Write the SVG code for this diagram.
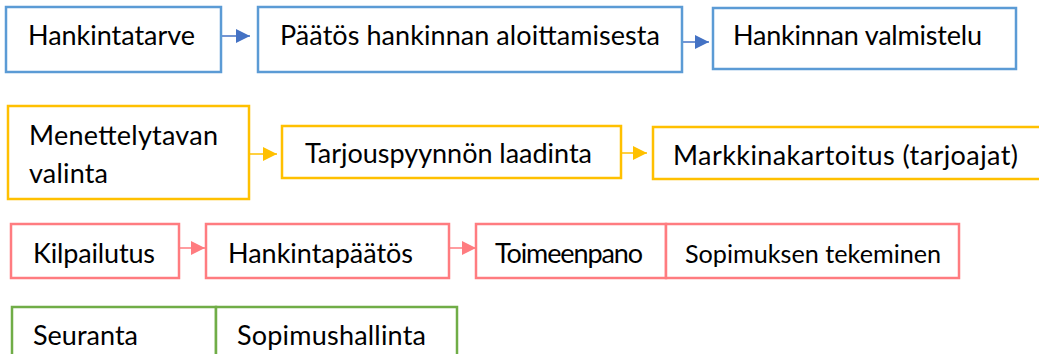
<svg xmlns="http://www.w3.org/2000/svg" width="1039" height="354" viewBox="0 0 1039 354">
<style>
  text { font-family: Lato, "Open Sans", "Liberation Sans", sans-serif; font-size: 27px; fill: #000; }
  rect { fill: #fff; stroke-width: 2.5; }
  .blue { stroke: #5B9BD5; }
  .yellow { stroke: #FFC000; }
  .pink { stroke: #FF7C80; }
  .green { stroke: #70AD47; }
  .conn { fill: none; stroke-width: 1.5; }
  .cb { stroke: #4472C4; }
  .cy { stroke: #FFC000; }
  .cp { stroke: #FF7C80; }
</style>
<defs>
  <marker id="hb" markerUnits="userSpaceOnUse" markerWidth="14" markerHeight="14" viewBox="0 0 14 14" refX="14" refY="7" orient="auto"><path d="M0,0 L14,7 L0,14 z" fill="#4472C4"/></marker>
  <marker id="hy" markerUnits="userSpaceOnUse" markerWidth="14" markerHeight="14" viewBox="0 0 14 14" refX="14" refY="7" orient="auto"><path d="M0,0 L14,7 L0,14 z" fill="#FFC000"/></marker>
  <marker id="hp" markerUnits="userSpaceOnUse" markerWidth="14" markerHeight="14" viewBox="0 0 14 14" refX="14" refY="7" orient="auto"><path d="M0,0 L14,7 L0,14 z" fill="#FF7C80"/></marker>
</defs>
<rect width="1039" height="354" fill="#fff" stroke="none"/>
<g id="connectors">
  <path class="conn cb" d="M221,36 L250,36" marker-end="url(#hb)"/>
  <path class="conn cb" d="M682,42 L709,42" marker-end="url(#hb)"/>
  <path class="conn cy" d="M249,154 L277,154" marker-end="url(#hy)"/>
  <path class="conn cy" d="M621,153 L647,153" marker-end="url(#hy)"/>
  <path class="conn cp" d="M179,248 L205,248" marker-end="url(#hp)"/>
  <path class="conn cp" d="M449,248 L476,248" marker-end="url(#hp)"/>
</g>
<g id="n1"><rect class="blue" x="6" y="7" width="215" height="65"/><text x="28" y="45" textLength="167">Hankintatarve</text></g>
<g id="n2"><rect class="blue" x="258" y="7" width="424" height="65"/><text x="280" y="45" textLength="380">Päätös hankinnan aloittamisesta</text></g>
<g id="n3"><rect class="blue" x="713" y="8" width="303" height="61"/><text x="733" y="45" textLength="249">Hankinnan valmistelu</text></g>
<g id="n4"><rect class="yellow" x="8" y="106" width="241" height="93"/><text x="29" y="145" textLength="189">Menettelytavan</text><text x="29" y="183" textLength="79">valinta</text></g>
<g id="n5"><rect class="yellow" x="282" y="126" width="339" height="52"/><text x="305" y="163" textLength="287">Tarjouspyynnön laadinta</text></g>
<g id="n6"><rect class="yellow" x="653" y="127" width="400" height="52"/><text x="673" y="165" textLength="345">Markkinakartoitus (tarjoajat)</text></g>
<g id="n7"><rect class="pink" x="11" y="224" width="168" height="54"/><text x="33" y="263" textLength="122">Kilpailutus</text></g>
<g id="n8"><rect class="pink" x="206" y="224" width="243" height="54"/><text x="228" y="263" textLength="185">Hankintapäätös</text></g>
<g id="n9"><rect class="pink" x="476" y="224" width="190" height="54"/><text x="495" y="263" textLength="148">Toimeenpano</text></g>
<g id="n10"><rect class="pink" x="666" y="224" width="293" height="54"/><text x="685" y="263" style="font-size:25.2px">Sopimuksen tekeminen</text></g>
<g id="n11"><rect class="green" x="12" y="307" width="204" height="70"/><text x="33" y="345" textLength="105">Seuranta</text></g>
<g id="n12"><rect class="green" x="216" y="307" width="241" height="70"/><text x="237" y="345" textLength="189">Sopimushallinta</text></g>
</svg>
